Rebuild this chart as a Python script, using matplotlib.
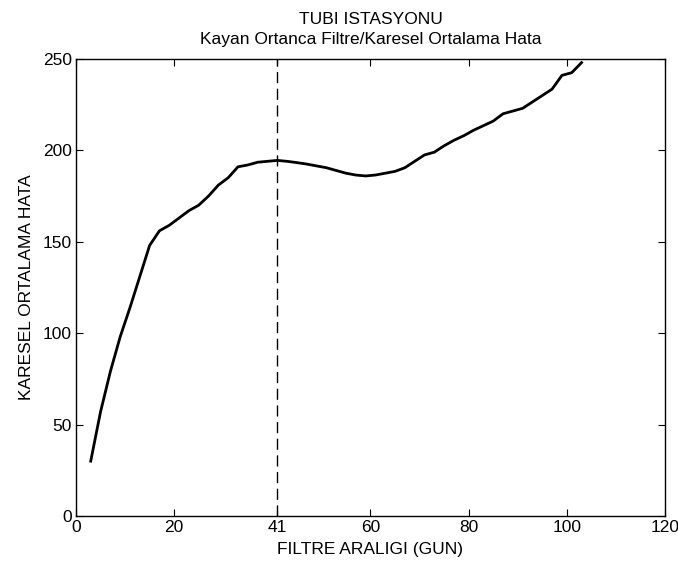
import numpy as np
import matplotlib
matplotlib.use('Agg')
import matplotlib.pyplot as plt

# filtre araligi (gun) ve karesel ortalama hata
gun = [3, 5, 7, 9, 11, 13, 15, 17, 19, 21, 23, 25, 27, 29, 31, 33, 35, 37, 39, 41,
       43, 45, 47, 49, 51, 53, 55, 57, 59, 61, 63, 65, 67, 69, 71, 73, 75, 77, 79, 81,
       83, 85, 87, 89, 91, 93, 95, 97, 99, 101, 103]
hata = [30, 57, 79, 98, 114, 131, 148, 156, 159, 163, 167, 170, 175, 181, 185, 191, 192, 193.5, 194, 194.5,
        194, 193.3, 192.5, 191.5, 190.5, 189, 187.5, 186.5, 186, 186.5, 187.5, 188.5, 190.5, 194, 197.5, 199, 202.5, 205.5, 208, 211,
        213.5, 216, 220, 221.5, 223, 226.5, 230, 233.5, 241, 242.5, 248]
secilen = 41
xticks = [0, 20, 41, 60, 80, 100, 120]
yticks = [0, 50, 100, 150, 200, 250]

plt.rcParams['font.family'] = ['Liberation Sans', 'DejaVu Sans']
fs = 12.5

fig = plt.figure(figsize=(6.78, 5.62), dpi=100)
ax = fig.add_axes([0.1121, 0.0819, 0.8687, 0.8132])

ax.plot(gun, hata, color='black', linewidth=2.0)
ax.plot([secilen, secilen], [0, 250], color='black', linewidth=1.0, linestyle=(0, (8, 4)))

ax.set_xlim(0, 120)
ax.set_ylim(0, 250)
ax.set_xticks(xticks)
ax.set_yticks(yticks)
ax.tick_params(direction='in', length=5, width=0.8, top=True, right=True, labelsize=fs, pad=3)
for s in ax.spines.values():
    s.set_linewidth(1.0)

ax.set_title('TUBI ISTASYONU\nKayan Ortanca Filtre/Karesel Ortalama Hata', fontsize=fs, pad=11, linespacing=1.35)
ax.set_xlabel('FILTRE ARALIGI (GUN)', fontsize=fs, labelpad=5)
ax.set_ylabel('KARESEL ORTALAMA HATA', fontsize=fs, labelpad=6)

fig.savefig('out.png', dpi=100)
